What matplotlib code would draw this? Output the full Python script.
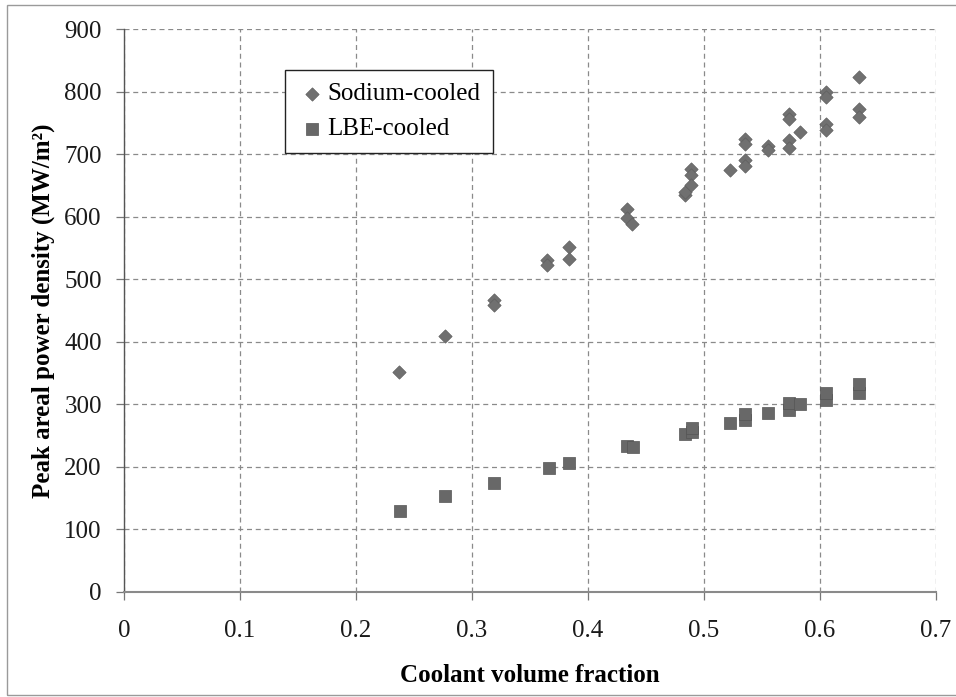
import matplotlib
matplotlib.use("Agg")
import matplotlib.pyplot as plt
from matplotlib.patches import Rectangle

plt.rcParams['font.family'] = ['Liberation Serif', 'DejaVu Serif']

# Sodium-cooled designs
sodium_frac = [0.237, 0.277, 0.319, 0.319, 0.365, 0.365, 0.384, 0.384,
               0.434, 0.434, 0.438, 0.484, 0.484, 0.489, 0.489, 0.489,
               0.522, 0.535, 0.535, 0.535, 0.535, 0.555, 0.555,
               0.573, 0.573, 0.573, 0.573, 0.583, 0.605, 0.605, 0.605, 0.605,
               0.634, 0.634, 0.634]
sodium_power = [352, 410, 466, 458, 530, 522, 551, 533,
                613, 598, 588, 634, 640, 676, 667, 650,
                675, 724, 716, 690, 681, 713, 706,
                764, 756, 723, 710, 736, 800, 792, 748, 738,
                824, 772, 759]

# LBE-cooled designs
lbe_frac = [0.238, 0.277, 0.319, 0.366, 0.384, 0.434, 0.439, 0.484,
            0.490, 0.490, 0.522, 0.535, 0.535, 0.555, 0.573, 0.573,
            0.583, 0.605, 0.605, 0.634, 0.634]
lbe_power = [130, 153, 174, 199, 207, 233, 231, 253,
             256, 262, 270, 275, 285, 286, 291, 302,
             300, 307, 318, 318, 332]

x_ticks = [0, 0.1, 0.2, 0.3, 0.4, 0.5, 0.6, 0.7]
x_tick_labels = ['0', '0.1', '0.2', '0.3', '0.4', '0.5', '0.6', '0.7']
y_ticks = list(range(0, 901, 100))

fig = plt.figure(figsize=(9.56, 6.97), dpi=100)
ax = fig.add_axes([124 / 956, 105 / 697, 812 / 956, 563 / 697])

# outer frame around the chart area
fig.patches.append(Rectangle((7 / 956, 2 / 697), 1.0, 690 / 697,
                             transform=fig.transFigure, fill=False,
                             edgecolor='#9a9a9a', linewidth=1.0))

ax.scatter(sodium_frac, sodium_power, marker='D', s=46, color='#707070',
           edgecolors='#5f5f5f', linewidths=0.5, label='Sodium-cooled', zorder=3)
ax.scatter(lbe_frac, lbe_power, marker='s', s=72, color='#686868',
           edgecolors='#555555', linewidths=0.5, label='LBE-cooled', zorder=3)

ax.set_xlim(0, 0.7)
ax.set_ylim(0, 900)
ax.set_xticks(x_ticks)
ax.set_xticklabels(x_tick_labels)
ax.set_yticks(y_ticks)

ax.grid(True, color='#8a8a8a', linestyle=(0, (4, 3)), linewidth=0.9)
ax.set_axisbelow(True)

for side in ('top', 'right'):
    ax.spines[side].set_visible(False)
ax.spines['left'].set_color('#555555')
ax.spines['bottom'].set_color('#8a8a8a')
ax.spines['left'].set_linewidth(1.0)
ax.spines['bottom'].set_linewidth(1.5)

ax.tick_params(axis='both', direction='out', length=6, width=0.9,
               color='#777777', labelsize=18, labelcolor='#1a1a1a')
ax.tick_params(axis='x', pad=14)
ax.tick_params(axis='y', pad=10)

ax.set_xlabel('Coolant volume fraction', fontsize=18, fontweight='bold',
              labelpad=16)
ax.set_ylabel('Peak areal power density (MW/m²)', fontsize=18,
              fontweight='bold', labelpad=7)

leg = ax.legend(loc='upper left', bbox_to_anchor=(0.198, 0.927), fontsize=18,
                frameon=True, fancybox=False, edgecolor='#222222',
                framealpha=1, borderpad=0.5, labelspacing=0.5,
                handletextpad=0.0, handlelength=1.2, borderaxespad=0)
leg.get_frame().set_linewidth(1.0)

fig.savefig('out.png', dpi=100)
